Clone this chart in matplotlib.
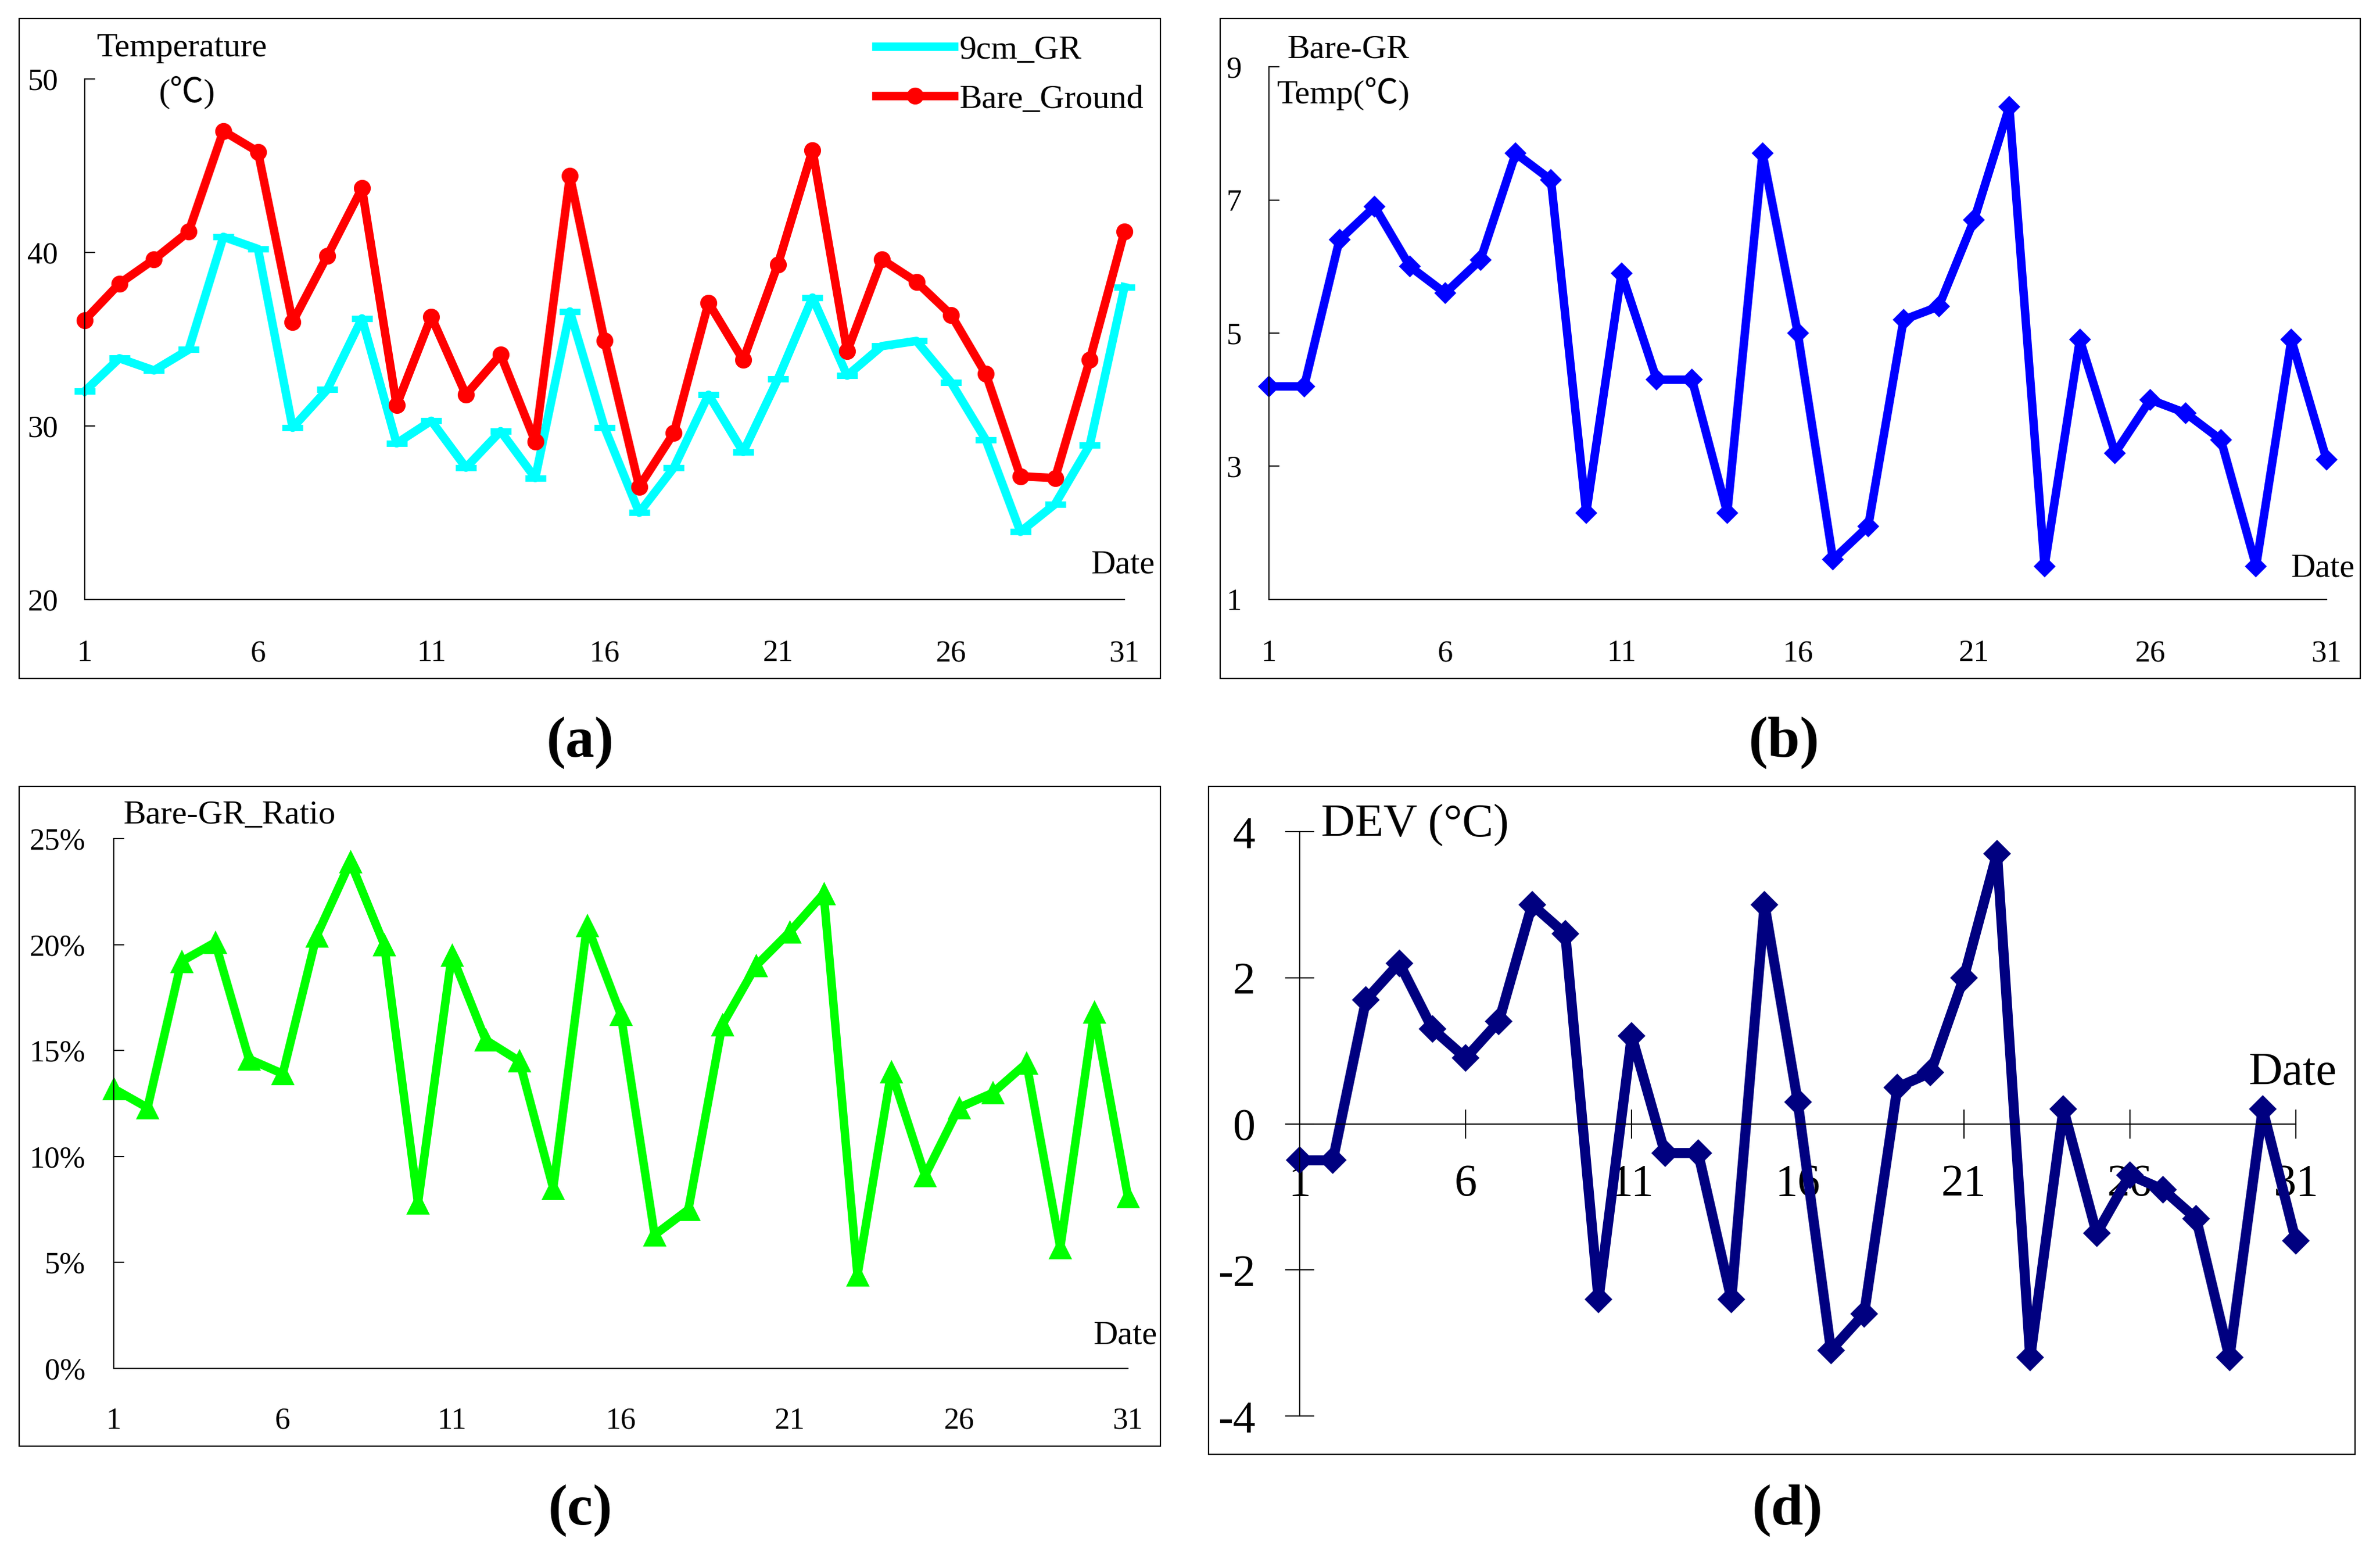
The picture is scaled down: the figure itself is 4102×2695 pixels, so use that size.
import matplotlib
matplotlib.use('Agg')
import matplotlib.pyplot as plt
from matplotlib.patches import Rectangle

plt.rcParams['font.family'] = 'serif'
plt.rcParams['font.serif'] = ['Liberation Serif', 'DejaVu Serif']
CJK = ['Liberation Serif', 'Noto Sans CJK SC', 'DejaVu Sans']

W, H = 4102, 2695

days = list(range(1, 32))
xtick_days = [1, 6, 11, 16, 21, 26, 31]

gr_9cm = [32.0, 33.9, 33.2, 34.4, 40.9, 40.2, 29.9, 32.1, 36.2, 29.0, 30.3,
          27.6, 29.7, 27.0, 36.6, 29.9, 25.0, 27.6, 31.8, 28.5, 32.7, 37.4,
          32.9, 34.6, 34.9, 32.5, 29.2, 23.9, 25.5, 28.9, 38.0]
bare_ground = [36.1, 38.2, 39.6, 41.2, 47.0, 45.8, 36.0, 39.8, 43.7, 31.2, 36.3,
               31.8, 34.1, 29.1, 44.4, 34.9, 26.5, 29.6, 37.1, 33.8, 39.3, 45.9,
               34.3, 39.6, 38.3, 36.4, 33.0, 27.1, 27.0, 33.8, 41.2]
bare_minus_gr = [4.2, 4.2, 6.4, 6.9, 6.0, 5.6, 6.1, 7.7, 7.3, 2.3, 5.9,
                 4.3, 4.3, 2.3, 7.7, 5.0, 1.6, 2.1, 5.2, 5.4, 6.7, 8.4,
                 1.5, 4.9, 3.2, 4.0, 3.8, 3.4, 1.5, 4.9, 3.1]
ratio_pct = [13.2, 12.3, 19.2, 20.1, 14.6, 13.9, 20.4, 23.9, 20.0, 7.8, 19.5,
             15.5, 14.5, 8.5, 20.9, 16.7, 6.3, 7.5, 16.2, 19.0, 20.6, 22.4,
             4.4, 14.0, 9.1, 12.3, 13.0, 14.4, 5.7, 16.8, 8.1]
dev = [-0.5, -0.5, 1.7, 2.2, 1.3, 0.9, 1.4, 3.0, 2.6, -2.4, 1.2,
       -0.4, -0.4, -2.4, 3.0, 0.3, -3.1, -2.6, 0.5, 0.7, 2.0, 3.7,
       -3.2, 0.2, -1.5, -0.7, -0.9, -1.3, -3.2, 0.2, -1.6]

temp_ticks = [20, 30, 40, 50]
diff_ticks = [1, 3, 5, 7, 9]
ratio_ticks = [0, 5, 10, 15, 20, 25]
dev_ticks = [-4, -2, 0, 2, 4]

fig = plt.figure(figsize=(W / 100, H / 100), dpi=100)


def rect(x0, y0, x1, y1):
    return [x0 / W, 1 - y1 / H, (x1 - x0) / W, (y1 - y0) / H]


def ftext(x, y, s, **kw):
    fig.text(x / W, 1 - y / H, s, **kw)


def frame(x0, y0, x1, y1):
    fig.patches.append(Rectangle((x0 / W, 1 - y1 / H), (x1 - x0) / W, (y1 - y0) / H,
                                 transform=fig.transFigure, fill=False,
                                 edgecolor='black', linewidth=1.6))


def base_axes(r, ylim, yticks, ylabels, tick_fs, xpad, ypad):
    ax = fig.add_axes(rect(*r))
    ax.set_xlim(1, 31)
    ax.set_ylim(*ylim)
    ax.patch.set_alpha(0)
    for s in ['top', 'right']:
        ax.spines[s].set_visible(False)
    for s in ['left', 'bottom']:
        ax.spines[s].set_linewidth(1.5)
    ax.set_xticks(xtick_days)
    ax.set_xticklabels([str(d) for d in xtick_days])
    ax.set_yticks(yticks)
    ax.set_yticklabels(ylabels)
    ax.tick_params(axis='x', length=0, pad=xpad, labelsize=tick_fs)
    ax.tick_params(axis='y', direction='in', length=13, width=1.5, pad=ypad, labelsize=tick_fs)
    return ax


# (a) temperatures
frame(33, 32, 2000, 1169)
ax = base_axes((146, 136, 1938, 1033), (20, 50), temp_ticks,
               [str(t) for t in temp_ticks], 38, 50, 33)
ax.plot(days, gr_9cm, color='#00FFFF', lw=10.5, marker='_', ms=26, mew=8,
        label='9cm_GR', clip_on=False)
ax.plot(days, bare_ground, color='#FF0000', lw=10.5, marker='o', ms=20,
        label='Bare_Ground', clip_on=False)
ax.legend(loc='upper left', bbox_to_anchor=(1510 / W, 1 - 60 / H),
          bbox_transform=fig.transFigure, frameon=False, fontsize=42,
          handlelength=2.3, handletextpad=0.15, labelspacing=0.55, borderpad=0,
          borderaxespad=0)
ftext(167, 83, 'Temperature', fontsize=42, ha='left', va='center')
ftext(322, 160, '(℃)', fontsize=42, ha='center', va='center', family=CJK)
ftext(1990, 973, 'Date', fontsize=42, ha='right', va='center')
ftext(1000, 1280, '(a)', fontsize=72, fontweight='bold', ha='center', va='center')

# (b) bare - GR
frame(2103, 32, 4068, 1169)
ax = base_axes((2187, 115, 4010, 1033), (1, 9), diff_ticks,
               [str(t) for t in diff_ticks], 38, 50, 34)
ax.plot(days, bare_minus_gr, color='#0000FF', lw=10.5, marker='D', ms=16, mew=3,
        clip_on=False)
ftext(2218, 85, 'Bare-GR', fontsize=42, ha='left', va='center')
ftext(2201, 162, 'Temp(℃)', fontsize=42, ha='left', va='center', family=CJK)
ftext(4059, 979, 'Date', fontsize=42, ha='right', va='center')
ftext(3075, 1280, '(b)', fontsize=72, fontweight='bold', ha='center', va='center')

# (c) ratio
frame(33, 1355, 2000, 2492)
ax = base_axes((196, 1445, 1944, 2358), (0, 25), ratio_ticks,
               [f'{t}%' for t in ratio_ticks], 38, 48, 35)
ax.plot(days, ratio_pct, color='#00FF00', lw=10.5, marker='^', ms=26, mew=2,
        clip_on=False)
ftext(212, 1405, 'Bare-GR_Ratio', fontsize=42, ha='left', va='center')
ftext(1994, 2301, 'Date', fontsize=42, ha='right', va='center')
ftext(1000, 2603, '(c)', fontsize=72, fontweight='bold', ha='center', va='center')

# (d) deviation
frame(2083, 1355, 4059, 2506)
ax = fig.add_axes(rect(2240, 1433, 3957, 2440))
ax.set_xlim(1, 31)
ax.set_ylim(-4, 4)
ax.patch.set_alpha(0)
for s in ['top', 'right']:
    ax.spines[s].set_visible(False)
ax.spines['bottom'].set_position(('data', 0))
ax.spines['left'].set_linewidth(1.5)
ax.spines['bottom'].set_linewidth(1.5)
ax.set_xticks(xtick_days)
ax.set_xticklabels([str(d) for d in xtick_days])
ax.set_yticks(dev_ticks)
ax.set_yticklabels([str(t) for t in dev_ticks])
ax.tick_params(axis='both', direction='inout', length=36, width=1.5, labelsize=56)
ax.tick_params(axis='x', pad=32)
ax.tick_params(axis='y', pad=37)
ax.plot(days, dev, color='#000080', lw=12.5, marker='D', ms=21, mew=3, clip_on=False)
ftext(2277, 1422, 'DEV (°C)', fontsize=58, ha='left', va='center')
ftext(4028, 1850, 'Date', fontsize=58, ha='right', va='center')
ftext(3081, 2603, '(d)', fontsize=72, fontweight='bold', ha='center', va='center')

fig.savefig('out.png', dpi=100, facecolor='white')
